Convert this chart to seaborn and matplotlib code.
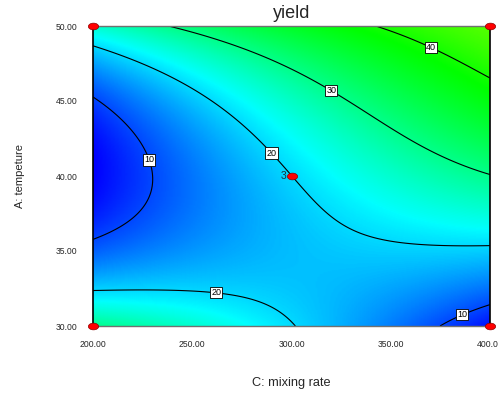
import numpy as np
import pandas as pd
import matplotlib
matplotlib.use("Agg")
import matplotlib.pyplot as plt
from matplotlib.colors import LinearSegmentedColormap
from matplotlib.path import Path
import seaborn as sns

# ---- data ----
mixing_rate = [200, 250, 300, 350, 400]          # C (x)
temperature = [30, 35, 40, 45, 50]               # A (y)
# yield estimated at the grid nodes (rows: temperature, cols: mixing rate)
yield_row_30 = [30.0, 26.0, 21.5, 13.0, 6.0]
yield_row_35 = [12.0, 14.5, 16.5, 19.5, 19.5]
yield_row_40 = [4.8, 13.0, 20.0, 26.0, 29.6]
yield_row_45 = [9.5, 19.8, 26.5, 33.0, 37.5]
yield_row_50 = [25.0, 31.5, 35.5, 40.5, 44.0]
contour_levels = [10, 20, 30, 40]
design_x = [200, 200, 400, 400, 300]
design_y = [30, 50, 30, 50, 40]
center_reps = "3"
x_ticks = [200, 250, 300, 350, 400]
y_ticks = [30, 35, 40, 45, 50]
label_pos = [(229, 41.1), (290.5, 41.6), (262.5, 32.7), (384, 31.4), (321, 45.9), (372, 49.1)]

sns.set_style("white")
plt.rcParams['font.family'] = ['Liberation Sans', 'DejaVu Sans']

# smooth response surface (least-squares biquadratic through the read grid)
Z = np.array([yield_row_30, yield_row_35, yield_row_40, yield_row_45, yield_row_50])
X, Y = np.meshgrid(mixing_rate, temperature)
def basis(x, y):
    c = (np.asarray(x) - 300) / 100.0
    a = (np.asarray(y) - 40) / 10.0
    return np.stack([a**i * c**j for i in range(3) for j in range(3)], axis=-1)
coef, *_ = np.linalg.lstsq(basis(X.ravel(), Y.ravel()), Z.ravel(), rcond=None)
xf = np.linspace(200, 400, 300)
yf = np.linspace(30, 50, 300)
XF, YF = np.meshgrid(xf, yf)
ZF = basis(XF, YF) @ coef

cmap = LinearSegmentedColormap.from_list(
    "de", [(0.0, "#0000ff"), (17.5/48, "#00ffff"), (34/48, "#00ff00"), (1.0, "#ffff00")])

fig = plt.figure(figsize=(4.98, 3.96), dpi=100)
ax = fig.add_axes([93/498, 1-326/396, (490-93)/498, (326-26)/396])
ax.pcolormesh(XF, YF, ZF, cmap=cmap, vmin=5, vmax=53, shading="gouraud", rasterized=True)
cs = ax.contour(XF, YF, ZF, levels=contour_levels, colors="black", linewidths=0.8)
texts = ax.clabel(cs, fmt="%d", fontsize=6.5, inline=False, manual=label_pos)
for t in texts:
    t.set_rotation(0)
    t.set_bbox(dict(facecolor="white", edgecolor="black", pad=0.8, linewidth=0.6))
    t.set_zorder(5)

# elliptical marker like the original
circ = Path.unit_circle()
ellipse = Path(circ.vertices * np.array([1.0, 0.65]), circ.codes)

df = pd.DataFrame({"x": design_x, "y": design_y})
sns.scatterplot(data=df, x="x", y="y", ax=ax, s=55, color="red", edgecolor="#8b0000",
                linewidth=0.5, marker=ellipse, zorder=6, clip_on=False, legend=False)
ax.text(297.5, 40, center_reps, ha="right", va="center", fontsize=7.5,
        color="#1a3040", zorder=6)

ax.set_xlim(200, 400)
ax.set_ylim(30, 50)
ax.set_xticks(x_ticks)
ax.set_yticks(y_ticks)
ax.set_xticklabels([f"{v:.2f}" for v in x_ticks], fontsize=6.2)
ax.set_yticklabels([f"{v:.2f}" for v in y_ticks], fontsize=6.2)
ax.tick_params(axis="x", direction="out", length=7, width=1, pad=3, color="black")
ax.tick_params(axis="y", direction="out", length=10, width=1, pad=1, color="black")
for s in ["left", "right"]:
    ax.spines[s].set_color("black")
    ax.spines[s].set_linewidth(1.2)
for s in ["top", "bottom"]:
    ax.spines[s].set_color("#707070")
    ax.spines[s].set_linewidth(1.0)
ax.set_xlabel("C: mixing rate", fontsize=9.2, labelpad=20)
ax.set_ylabel("A: tempeture", fontsize=8, labelpad=22)
ax.set_title("yield", fontsize=13, pad=6)

fig.savefig("out.png", dpi=100)
